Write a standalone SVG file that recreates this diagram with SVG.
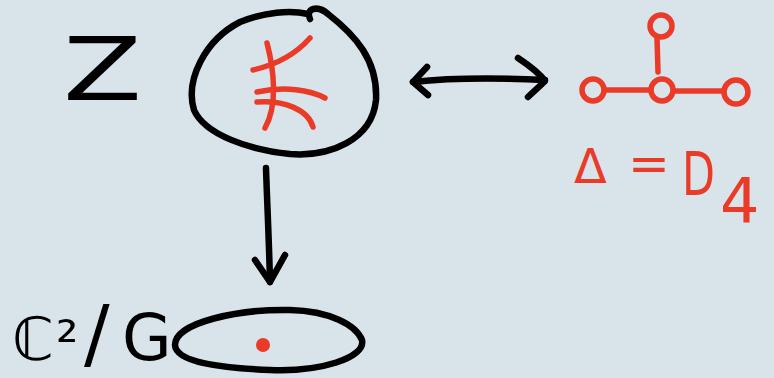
<svg xmlns="http://www.w3.org/2000/svg" width="774" height="378" viewBox="0 0 774 378">
<style>
.ink{fill:none;stroke:#000;stroke-width:6.5;stroke-linecap:round;stroke-linejoin:round}
.red{fill:none;stroke:#ea3a28;stroke-width:5.5;stroke-linecap:round;stroke-linejoin:round}
.tb{fill:#000;font-family:"DejaVu Sans","Liberation Sans",sans-serif}
.tr{fill:#ea3a28;font-family:"DejaVu Sans","Liberation Sans",sans-serif}
</style>
<rect width="774" height="378" fill="#d9e4ea"/>
<g id="label-Z">
<text class="tb" x="63" y="100" font-size="88" textLength="79" lengthAdjust="spacingAndGlyphs">Z</text>
</g>
<g id="node-resolution">
<path class="ink" d="M310 19 C305 8,318 5,328 14 C355 35,378 60,376 100 C372 140,330 157,290 154 C250 150,205 135,194 110 C185 80,205 40,240 22 C265 12,290 10,308 14"/>
<path class="red" d="M267 43 C274 70,278 105,265 128"/>
<path class="red" d="M310 38 C295 55,275 65,253 70"/>
<path class="red" d="M257 92 C285 86,310 90,325 98"/>
<path class="red" d="M257 102 C285 100,308 110,313 127"/>
</g>
<g id="node-dynkin">
<circle class="red" cx="661" cy="26" r="11"/>
<circle class="red" cx="593" cy="90" r="11"/>
<circle class="red" cx="662" cy="90" r="11"/>
<circle class="red" cx="736" cy="92" r="12"/>
<path class="red" d="M657 38 L658 72"/>
<path class="red" d="M605 90 L650 90"/>
<path class="red" d="M674 91 L723 91"/>
<text class="tr" y="183"><tspan x="574" font-size="48">Δ</tspan><tspan x="628" y="181" font-size="50">=</tspan><tspan x="682" y="195" font-size="60" textLength="33" lengthAdjust="spacingAndGlyphs">D</tspan><tspan x="720" y="223" font-size="62">4</tspan></text>
</g>
<g id="node-quotient">
<text class="tb" y="360"><tspan x="12" font-size="60">ℂ</tspan><tspan x="56" font-size="56">²</tspan><tspan x="84" font-size="76">/</tspan><tspan x="122" font-size="64">G</tspan></text>
<path class="ink" d="M175 345 C175 322,240 309,290 310 C330 311,356 325,362 340 C366 358,320 372,270 370 C220 368,176 362,175 345 Z"/>
<circle cx="263" cy="345" r="7" fill="#ea3a28"/>
</g>
<g id="connectors">
<path class="ink" d="M413 82 C450 78,500 78,545 80"/>
<path class="ink" d="M427 67 L413 82 L428 95"/>
<path class="ink" d="M518 58 C530 66,540 74,545 81 C538 88,533 92,528 97"/>
<path class="ink" d="M266 168 C267 200,269 240,270 282"/>
<path class="ink" d="M255 260 L270 282 L285 255"/>
</g>
</svg>
